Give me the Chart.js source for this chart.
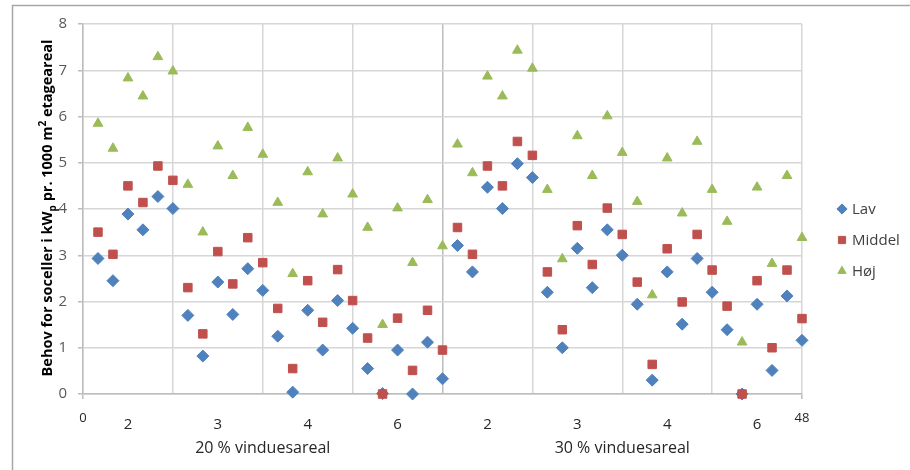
<!DOCTYPE html>
<html>
<head>
<meta charset="utf-8">
<script src="https://cdn.jsdelivr.net/npm/chart.js@4/dist/chart.umd.min.js"></script>
<style>
  html, body { margin: 0; padding: 0; background: #fff; }
  #wrap { width: 910px; height: 470px; position: relative; }
</style>
</head>
<body>
<div id="wrap"><canvas id="chart"></canvas></div>
<script>
// Values, one per building case (1..48)
const lavValues = [2.93, 2.45, 3.89, 3.55, 4.27, 4.01, 1.70, 0.82, 2.42, 1.72, 2.71, 2.24,
                   1.25, 0.04, 1.81, 0.95, 2.02, 1.42, 0.55, 0.01, 0.95, 0.00, 1.12, 0.33,
                   3.21, 2.64, 4.47, 4.01, 4.98, 4.68, 2.20, 1.00, 3.15, 2.30, 3.55, 3.00,
                   1.94, 0.30, 2.64, 1.51, 2.93, 2.20, 1.39, 0.00, 1.94, 0.51, 2.12, 1.16];
const middelValues = [3.50, 3.02, 4.50, 4.14, 4.93, 4.62, 2.30, 1.30, 3.08, 2.38, 3.38, 2.84,
                      1.85, 0.55, 2.45, 1.55, 2.69, 2.02, 1.21, 0.00, 1.64, 0.51, 1.81, 0.95,
                      3.60, 3.02, 4.93, 4.50, 5.46, 5.16, 2.64, 1.39, 3.64, 2.80, 4.02, 3.45,
                      2.42, 0.64, 3.14, 1.99, 3.45, 2.68, 1.90, 0.00, 2.45, 1.00, 2.68, 1.63];
const hojValues = [5.85, 5.31, 6.83, 6.44, 7.29, 6.98, 4.53, 3.50, 5.36, 4.72, 5.76, 5.18,
                   4.14, 2.60, 4.80, 3.89, 5.10, 4.32, 3.60, 1.50, 4.02, 2.84, 4.20, 3.20,
                   5.40, 4.78, 6.87, 6.44, 7.43, 7.04, 4.42, 2.92, 5.58, 4.72, 6.01, 5.22,
                   4.16, 2.14, 5.10, 3.91, 5.46, 4.42, 3.73, 1.12, 4.47, 2.82, 4.72, 3.38];

const seriesNames = ['Lav', 'Middel', 'Høj'];
const subLabels = ['2', '3', '4', '6', '2', '3', '4', '6'];
const subLabelPos = [3, 9, 15, 21, 27, 33, 39, 45];
const groupLabels = ['20 % vinduesareal', '30 % vinduesareal'];
const groupLabelPos = [12, 36];

const FONT = "'Open Sans', 'Liberation Sans', sans-serif";
const GRID = '#D6D6D6';
const AXIS = '#BDBDBD';

const toPoints = (arr) => arr.map((v, i) => ({ x: i + 1, y: v }));

// Outer frame, category labels under the x axis, y title and legend
const decorPlugin = {
    id: 'decor',
    beforeDraw(chart) {
        const ctx = chart.ctx;
        ctx.save();
        ctx.strokeStyle = '#A6A6A6';
        ctx.lineWidth = 1.5;
        ctx.strokeRect(12.5, 5.5, 1000, 1000);
        ctx.restore();
    },
    afterDraw(chart) {
        const ctx = chart.ctx;
        const x = chart.scales.x;
        ctx.save();
        ctx.fillStyle = '#262626';
        ctx.textAlign = 'center';
        ctx.textBaseline = 'middle';
        ctx.font = `15px ${FONT}`;
        subLabels.forEach((lbl, i) => {
            ctx.fillText(lbl, x.getPixelForValue(subLabelPos[i]), 425);
        });
        ctx.font = `16px ${FONT}`;
        groupLabels.forEach((lbl, i) => {
            ctx.fillText(lbl, x.getPixelForValue(groupLabelPos[i]), 448);
        });

        // y axis title with sub/superscript
        const parts = [
            { t: 'Behov for soceller i kW', s: 14.5, dy: 0 },
            { t: 'p', s: 10, dy: 4 },
            { t: ' pr. 1000 m', s: 14.5, dy: 0 },
            { t: '2', s: 10, dy: -6 },
            { t: ' etageareal', s: 14.5, dy: 0 },
        ];
        ctx.textAlign = 'left';
        ctx.textBaseline = 'alphabetic';
        let total = 0;
        parts.forEach(p => {
            ctx.font = `bold ${p.s}px ${FONT}`;
            p.w = ctx.measureText(p.t).width;
            total += p.w;
        });
        ctx.translate(52, 208);
        ctx.rotate(-Math.PI / 2);
        ctx.fillStyle = '#000';
        let cx = -total / 2;
        parts.forEach(p => {
            ctx.font = `bold ${p.s}px ${FONT}`;
            ctx.fillText(p.t, cx, p.dy);
            cx += p.w;
        });
        ctx.restore();

        // legend
        ctx.save();
        ctx.font = `15px ${FONT}`;
        ctx.textAlign = 'left';
        ctx.textBaseline = 'middle';
        chart.data.datasets.forEach((ds, i) => {
            const ly = 209 + i * 31;
            ctx.fillStyle = ds.backgroundColor;
            ctx.strokeStyle = ds.borderColor;
            ctx.lineWidth = 1;
            Chart.helpers.drawPoint(ctx, { pointStyle: ds.pointStyle, radius: ds.pointRadius * 0.85, rotation: 0, borderWidth: 1 }, 842, ly);
            ctx.fillStyle = '#404040';
            ctx.fillText(ds.label, 852, ly + 1);
        });
        ctx.restore();
    }
};

new Chart(document.getElementById('chart'), {
    type: 'scatter',
    data: {
        datasets: [
            { label: seriesNames[0], data: toPoints(lavValues), pointStyle: 'rectRot', pointRadius: 6,
              backgroundColor: '#4F81BD', borderColor: '#4F81BD', borderWidth: 1, order: 3, clip: false },
            { label: seriesNames[1], data: toPoints(middelValues), pointStyle: 'rect', pointRadius: 6,
              backgroundColor: '#C0504D', borderColor: '#C0504D', borderWidth: 1, order: 2, clip: false },
            { label: seriesNames[2], data: toPoints(hojValues), pointStyle: 'triangle', pointRadius: 5.6,
              backgroundColor: '#9BBB59', borderColor: '#9BBB59', borderWidth: 1, order: 1, clip: false },
        ]
    },
    options: {
        responsive: true,
        maintainAspectRatio: false,
        animation: false,
        events: [],
        layout: { padding: { top: 24, right: 108, bottom: 0, left: 0 } },
        plugins: { legend: { display: false }, tooltip: { enabled: false } },
        scales: {
            x: {
                type: 'linear',
                min: 0, max: 48,
                afterFit: (s) => { s.height = 76; },
                afterBuildTicks: (s) => { s.ticks = [0, 6, 12, 18, 24, 30, 36, 42, 48].map(v => ({ value: v })); },
                ticks: {
                    autoSkip: false,
                    maxRotation: 0,
                    padding: 11,
                    color: '#262626',
                    font: { family: FONT, size: 13 },
                    callback: (v) => (v === 0 || v === 48) ? String(v) : '',
                },
                grid: {
                    color: (c) => c.tick && c.tick.value === 24 ? '#BDBDBD' : GRID,
                    lineWidth: 1.5,
                    tickLength: 5,
                    tickColor: (c) => c.tick && (c.tick.value === 0 || c.tick.value === 48) ? AXIS : 'rgba(0,0,0,0)',
                },
                border: { color: AXIS, width: 1.5 },
            },
            y: {
                min: 0, max: 8,
                afterFit: (s) => { s.width = 83; },
                ticks: {
                    stepSize: 1,
                    padding: 11,
                    color: '#595959',
                    font: { family: FONT, size: 15 },
                },
                grid: { color: GRID, lineWidth: 1.5, tickLength: 5, tickColor: AXIS },
                border: { color: AXIS, width: 1.5 },
            }
        }
    },
    plugins: [decorPlugin]
});
</script>
</body>
</html>
